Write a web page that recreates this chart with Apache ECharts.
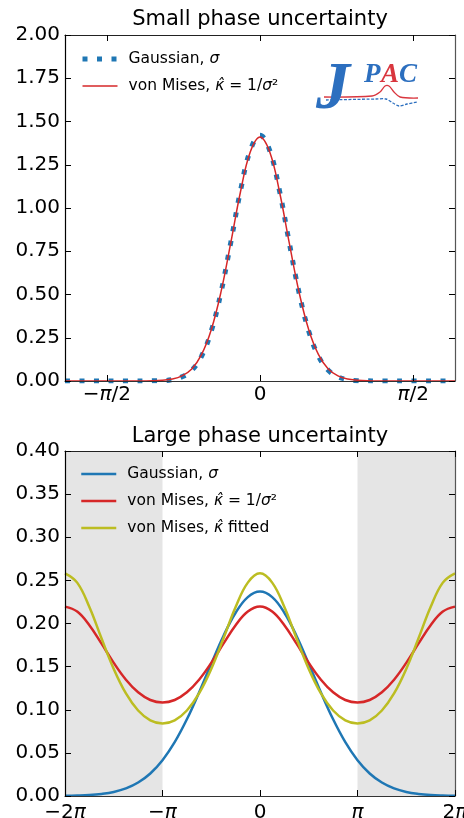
<!DOCTYPE html>
<html><head><meta charset="utf-8">
<script src="https://cdn.jsdelivr.net/npm/echarts@6/dist/echarts.min.js"></script>
<style>html,body{margin:0;padding:0;background:#fff}#c{width:464px;height:818px}</style>
</head><body><div id="c"></div>
<script>
// ---------- data ----------
const titleTop = 'Small phase uncertainty';
const titleBottom = 'Large phase uncertainty';

// top panel: phase (rad)
const xSmall = [-2.0,-1.9,-1.8,-1.7,-1.6,-1.5,-1.4,-1.3,-1.2,-1.1,-1.0,-0.9,-0.8,-0.7,-0.6,-0.5,-0.4,-0.3,-0.2,-0.1,0.0,0.1,0.2,0.3,0.4,0.5,0.6,0.7,0.8,0.9,1.0,1.1,1.2,1.3,1.4,1.5,1.6,1.7,1.8,1.9,2.0];
const gaussSmall = [0,0,0,0,0,0,0,0,0,0.001,0.002,0.008,0.024,0.062,0.143,0.288,0.512,0.800,1.100,1.332,1.420,1.332,1.100,0.800,0.512,0.288,0.143,0.062,0.024,0.008,0.002,0.001,0,0,0,0,0,0,0,0,0];
const vonMisesSmall = [0,0,0,0,0,0,0,0,0.0004,0.001,0.004,0.011,0.030,0.070,0.152,0.296,0.515,0.798,1.094,1.323,1.410,1.323,1.094,0.798,0.515,0.296,0.152,0.070,0.030,0.011,0.004,0.001,0.0004,0,0,0,0,0,0,0,0];

// bottom panel: phase in units of pi (steps of 1/8)
const xLargePi = [-2,-1.875,-1.75,-1.625,-1.5,-1.375,-1.25,-1.125,-1,-0.875,-0.75,-0.625,-0.5,-0.375,-0.25,-0.125,0,0.125,0.25,0.375,0.5,0.625,0.75,0.875,1,1.125,1.25,1.375,1.5,1.625,1.75,1.875,2];
const gaussLarge = [0.0002,0.0005,0.0011,0.0024,0.0047,0.0088,0.0156,0.0261,0.0415,0.0624,0.0889,0.1200,0.1533,0.1855,0.2125,0.2306,0.2370,0.2306,0.2125,0.1855,0.1533,0.1200,0.0889,0.0624,0.0415,0.0261,0.0156,0.0088,0.0047,0.0024,0.0011,0.0005,0.0002];
const vonMisesLarge = [0.2196,0.2138,0.1980,0.1766,0.1543,0.1348,0.1202,0.1113,0.1084,0.1113,0.1202,0.1348,0.1543,0.1766,0.1980,0.2138,0.2196,0.2138,0.1980,0.1766,0.1543,0.1348,0.1202,0.1113,0.1084,0.1113,0.1202,0.1348,0.1543,0.1766,0.1980,0.2138,0.2196];
const vonMisesFitted = [0.2582,0.2474,0.2191,0.1826,0.1473,0.1189,0.0991,0.0877,0.0841,0.0877,0.0991,0.1189,0.1473,0.1826,0.2191,0.2474,0.2582,0.2474,0.2191,0.1826,0.1473,0.1189,0.0991,0.0877,0.0841,0.0877,0.0991,0.1189,0.1473,0.1826,0.2191,0.2474,0.2582];

// ticks and labels
const topTickPi = [-0.5, 0, 0.5];
const topTickLabels = ['{n|−}{i|π}{n|/2}', '{n|0}', '{i|π}{n|/2}'];
const bottomTickPi = [-2, -1, 0, 1, 2];
const bottomTickLabels = ['{n|−2}{i|π}', '{n|−}{i|π}', '{n|0}', '{i|π}', '{n|2}{i|π}'];
const shadedPi = [[-2, -1], [1, 2]];

const legendTopNames = ['Gaussian, σ', 'von Mises, κ̂ = 1/σ²'];
const legendBottomNames = ['Gaussian, σ ', 'von Mises, κ̂ = 1/σ² ', 'von Mises, κ̂ fitted'];

// ---------- chart ----------
const PI = Math.PI;
const FONT = 'DejaVu Sans';
const C_BLUE = '#1f77b4', C_RED = '#d62728', C_OLIVE = '#bcbd22';

const topTicks = topTickPi.map(v => v * PI);
const zip = (xs, ys) => xs.map((x, i) => [x, ys[i]]);

const rich = {
  n: {fontFamily: FONT, fontSize: 20, color: '#000'},
  i: {fontFamily: FONT, fontSize: 20, fontStyle: 'italic', color: '#000'}
};
function labelFor(ticks, labels) {
  return v => {
    let best = 0;
    ticks.forEach((t, i) => { if (Math.abs(t - v) < Math.abs(ticks[best] - v)) best = i; });
    return labels[best];
  };
}
function xAxisDef(gridIndex, pos, min, max, ticks, labels, showLabel, lineColor, margin) {
  return {
    type: 'value', gridIndex, position: pos, min, max, z: 10,
    splitLine: {show: false},
    axisLine: {show: true, onZero: false, lineStyle: {color: lineColor, width: 1.2}},
    axisTick: {show: true, inside: true, length: 6, customValues: ticks, lineStyle: {color: '#000', width: 1}},
    axisLabel: {show: showLabel, customValues: ticks, margin, formatter: labelFor(ticks, labels), rich,
      hideOverlap: false}
  };
}
function yAxisDef(gridIndex, pos, min, max, interval, showLabel, lineColor) {
  return {
    type: 'value', gridIndex, position: pos, min, max, interval, z: 10,
    splitLine: {show: false},
    axisLine: {show: true, onZero: false, lineStyle: {color: lineColor, width: 1.2}},
    axisTick: {show: true, inside: true, length: 6, lineStyle: {color: '#000', width: 1}},
    axisLabel: {show: showLabel, margin: 5, fontFamily: FONT, fontSize: 20, color: '#000',
      formatter: v => v.toFixed(2)}
  };
}
function legendFormatter(name) {
  const n = name.trim();
  if (n === 'Gaussian, σ') return '{n|Gaussian, }{i|σ}';
  if (n === 'von Mises, κ̂ = 1/σ²') return '{n|von Mises, }{i|κ̂}{n| = 1/}{i|σ}{n|²}';
  return '{n|von Mises, }{i|κ̂}{n| fitted}';
}
const legendRich = {
  n: {fontFamily: FONT, fontSize: 15.5, color: '#000'},
  i: {fontFamily: FONT, fontSize: 15.5, fontStyle: 'italic', color: '#000'}
};
const noSymbol = {opacity: 0, color: 'transparent', borderWidth: 0};

const chart = echarts.init(document.getElementById('c'), null, {renderer: 'canvas'});
chart.setOption({
  animation: false,
  backgroundColor: '#fff',
  textStyle: {fontFamily: FONT},
  grid: [
    {left: 65, top: 35, width: 390, height: 346, containLabel: false, outerBoundsMode: 'none'},
    {left: 65, top: 451, width: 390, height: 345, containLabel: false, outerBoundsMode: 'none'}
  ],
  xAxis: [
    xAxisDef(0, 'bottom', -2, 2, topTicks, topTickLabels, true, '#333', 4),
    xAxisDef(0, 'top', -2, 2, topTicks, topTickLabels, false, '#222', 4),
    xAxisDef(1, 'bottom', -2, 2, bottomTickPi, bottomTickLabels, true, '#333', 7),
    xAxisDef(1, 'top', -2, 2, bottomTickPi, bottomTickLabels, false, '#222', 7)
  ],
  yAxis: [
    yAxisDef(0, 'left', 0, 2, 0.25, true, '#000'),
    yAxisDef(0, 'right', 0, 2, 0.25, false, '#555'),
    yAxisDef(1, 'left', 0, 0.4, 0.05, true, '#000'),
    yAxisDef(1, 'right', 0, 0.4, 0.05, false, '#555')
  ],
  legend: [
    {
      orient: 'vertical', left: 80, top: 51, padding: 0, itemWidth: 35, itemHeight: 14, itemGap: 11,
      formatter: legendFormatter, textStyle: {rich: legendRich, padding: [0, 0, 0, 6]},
      selectedMode: false, itemStyle: noSymbol,
      data: [
        {name: legendTopNames[0], itemStyle: noSymbol, lineStyle: {width: 5, type: [5, 9.5], cap: 'butt', color: C_BLUE}},
        {name: legendTopNames[1], itemStyle: noSymbol, lineStyle: {width: 1.5, color: C_RED}}
      ]
    },
    {
      orient: 'vertical', left: 80, top: 466, padding: 0, itemWidth: 35, itemHeight: 14, itemGap: 11,
      formatter: legendFormatter, textStyle: {rich: legendRich, padding: [0, 0, 0, 6]},
      selectedMode: false, itemStyle: noSymbol,
      data: legendBottomNames.map((n, i) => ({name: n, itemStyle: noSymbol,
        lineStyle: {width: 2.5, color: [C_BLUE, C_RED, C_OLIVE][i]}}))
    }
  ],
  series: [
    {
      name: legendTopNames[0], type: 'line', xAxisIndex: 0, yAxisIndex: 0,
      data: zip(xSmall, gaussSmall), smooth: 0.4, symbol: 'none', showSymbol: false, clip: true, z: 3,
      lineStyle: {color: C_BLUE, width: 5, type: [5, 9.5], cap: 'butt'}, itemStyle: {color: C_BLUE}
    },
    {
      name: legendTopNames[1], type: 'line', xAxisIndex: 0, yAxisIndex: 0,
      data: zip(xSmall, vonMisesSmall), smooth: 0.4, symbol: 'none', showSymbol: false, clip: true, z: 4,
      lineStyle: {color: C_RED, width: 1.5}, itemStyle: {color: C_RED}
    },
    {
      name: 'shade', type: 'line', xAxisIndex: 2, yAxisIndex: 2, data: [], z: 1, silent: true,
      markArea: {
        silent: true, itemStyle: {color: '#e5e5e5'},
        data: shadedPi.map(r => [{xAxis: r[0]}, {xAxis: r[1]}])
      }
    },
    {
      name: legendBottomNames[0], type: 'line', xAxisIndex: 2, yAxisIndex: 2,
      data: zip(xLargePi, gaussLarge), smooth: 0.4, symbol: 'none', showSymbol: false, clip: true, z: 3,
      lineStyle: {color: C_BLUE, width: 2.5}, itemStyle: {color: C_BLUE}
    },
    {
      name: legendBottomNames[1], type: 'line', xAxisIndex: 2, yAxisIndex: 2,
      data: zip(xLargePi, vonMisesLarge), smooth: 0.4, symbol: 'none', showSymbol: false, clip: true, z: 4,
      lineStyle: {color: C_RED, width: 2.5}, itemStyle: {color: C_RED}
    },
    {
      name: legendBottomNames[2], type: 'line', xAxisIndex: 2, yAxisIndex: 2,
      data: zip(xLargePi, vonMisesFitted), smooth: 0.4, symbol: 'none', showSymbol: false, clip: true, z: 5,
      lineStyle: {color: C_OLIVE, width: 2.5}, itemStyle: {color: C_OLIVE}
    }
  ],
  graphic: [
    {type: 'text', x: 260, y: 20, style: {text: titleTop, font: '21px "DejaVu Sans"', fill: '#000', textAlign: 'center', textVerticalAlign: 'middle'}},
    {type: 'text', x: 260, y: 437, style: {text: titleBottom, font: '21px "DejaVu Sans"', fill: '#000', textAlign: 'center', textVerticalAlign: 'middle'}},
    // JPAC logo
    {type: 'polyline', z: 19, shape: {points: [[324, 97], [372, 96], [380, 92], [385, 86], [389, 86], [394, 92], [400, 97], [418, 98]], smooth: 0.3},
      style: {stroke: '#d9363e', lineWidth: 1.3, fill: null}},
    {type: 'polyline', z: 19, shape: {points: [[326, 100], [376, 99], [386, 99], [393, 103], [399, 106], [407, 104], [418, 102]], smooth: 0.3},
      style: {stroke: '#2c6fbf', lineWidth: 1.3, fill: null, lineDash: [3, 1.5]}},
    {type: 'text', x: 316, y: 124, z: 20, style: {text: 'J', font: 'italic bold 68px "Liberation Serif"', fill: '#2c6fbf', textVerticalAlign: 'bottom'}},
    {type: 'text', x: 364, y: 89, z: 20, style: {text: 'P', font: 'italic bold 27px "Liberation Serif"', fill: '#2c6fbf', textVerticalAlign: 'bottom'}},
    {type: 'text', x: 381, y: 89, z: 20, style: {text: 'A', font: 'italic bold 27px "Liberation Serif"', fill: '#d9363e', textVerticalAlign: 'bottom'}},
    {type: 'text', x: 399, y: 89, z: 20, style: {text: 'C', font: 'italic bold 27px "Liberation Serif"', fill: '#2c6fbf', textVerticalAlign: 'bottom'}}
  ]
});
</script></body></html>
